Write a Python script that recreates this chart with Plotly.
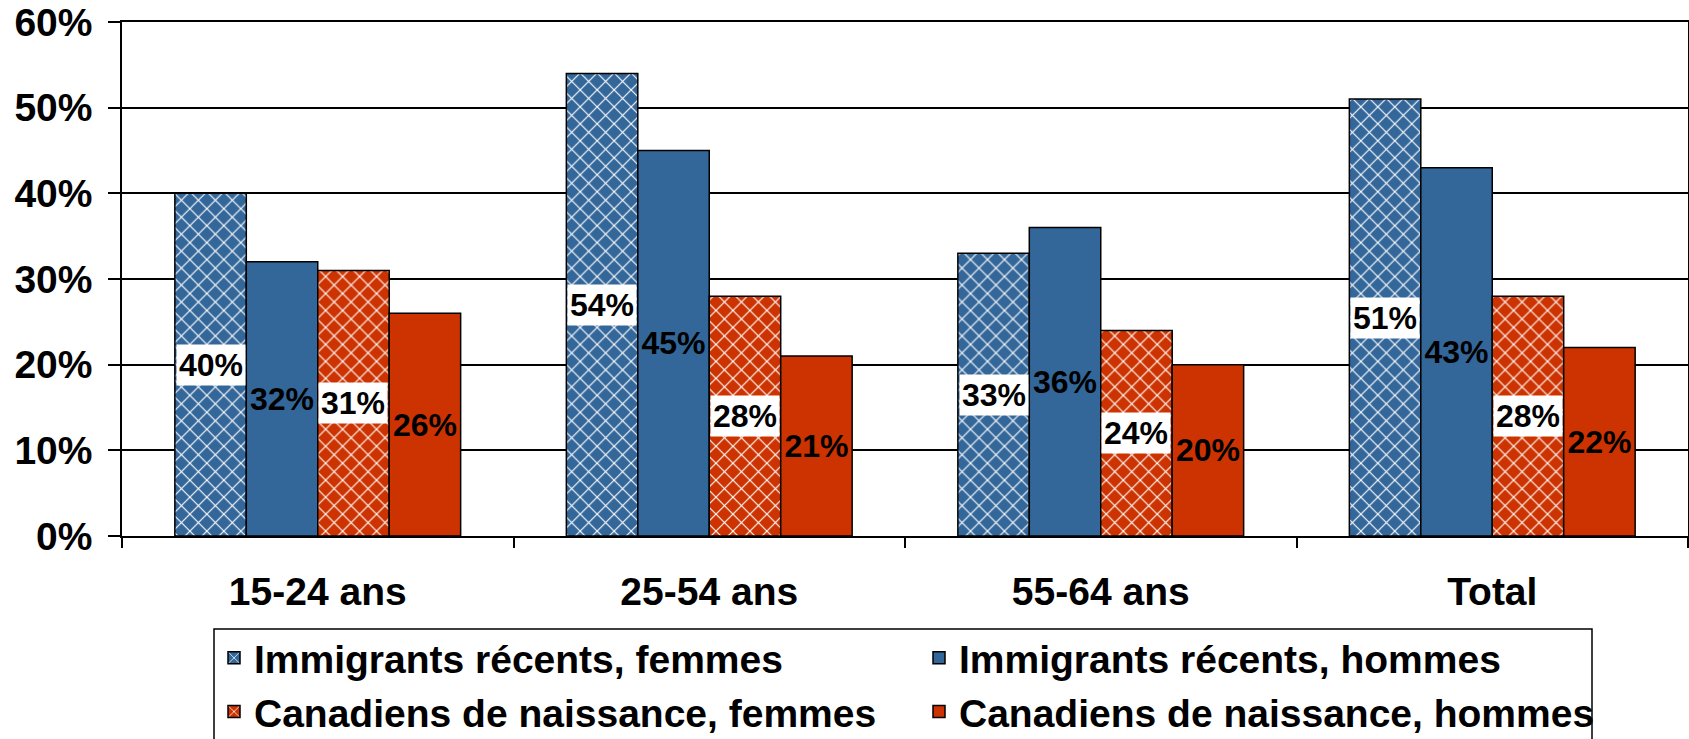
import plotly.graph_objects as go

categories = ["15-24 ans", "25-54 ans", "55-64 ans", "Total"]
series_names = [
    "Immigrants récents, femmes",
    "Immigrants récents, hommes",
    "Canadiens de naissance, femmes",
    "Canadiens de naissance, hommes",
]
imm_femmes = [40, 54, 33, 51]
imm_hommes = [32, 45, 36, 43]
can_femmes = [31, 28, 24, 28]
can_hommes = [26, 21, 20, 22]
y_ticks = [0, 10, 20, 30, 40, 50, 60]
y_ticktext = [f"{v}%" for v in y_ticks]

BLUE = "#336699"
RED = "#CC3300"
FONT = "Liberation Sans, Arial, sans-serif"
W, H = 1689, 739
ML, MR, MT, MB = 122, 1, 22, 203
PW, PH = W - ML - MR, H - MT - MB

values = [imm_femmes, imm_hommes, can_femmes, can_hommes]
colors = [BLUE, BLUE, RED, RED]
hatched = [True, False, True, False]

bar_w = 0.1825
start = -0.365

fig = go.Figure()
annotations = []
for k, (name, vals, col, hat) in enumerate(zip(series_names, values, colors, hatched)):
    off = start + k * bar_w
    marker = dict(color=col, line=dict(color="black", width=1.5))
    if hat:
        marker["pattern"] = dict(shape="x", fgcolor="white", bgcolor=col,
                                 size=12, solidity=0.18, fillmode="replace")
    fig.add_trace(go.Bar(
        name=name, x=categories, y=vals, width=bar_w, offset=off,
        marker=marker,
        text=None if hat else [f"{v}%" for v in vals],
        textposition="inside", insidetextanchor="middle", textangle=0,
        constraintext="none",
        textfont=dict(family=FONT, size=32, color="black", weight="bold"),
        hoverinfo="skip",
    ))
    if hat:
        for i, v in enumerate(vals):
            annotations.append(dict(
                x=i + off + bar_w / 2, y=v / 2, xref="x", yref="y",
                text=f"{v}%", showarrow=False, bgcolor="white",
                width=68, height=40, borderpad=0,
                font=dict(family=FONT, size=32, color="black", weight="bold"),
            ))

# legend frame (px -> paper)
lx0, lx1, ly0 = 214, 1592, 629
shapes = [dict(
    type="rect", xref="paper", yref="paper",
    x0=(lx0 - ML) / PW, x1=(lx1 - ML) / PW,
    y0=(MT + PH - ly0) / PH, y1=(MT + PH - 760) / PH,
    line=dict(color="black", width=1.5), fillcolor="rgba(0,0,0,0)", layer="above",
)]

fig.update_layout(
    width=W, height=H,
    margin=dict(l=ML, r=MR, t=MT, b=MB, autoexpand=False),
    paper_bgcolor="white", plot_bgcolor="white",
    barmode="overlay",
    showlegend=True,
    annotations=annotations,
    shapes=shapes,
    legend=dict(
        orientation="h", x=(lx0 - ML) / PW, xanchor="left",
        y=(MT + PH - 626) / PH, yanchor="top",
        borderwidth=0, bgcolor="rgba(0,0,0,0)",
        font=dict(family=FONT, size=39, color="black", weight="bold"),
        entrywidth=660, entrywidthmode="pixels",
        traceorder="normal",
    ),
    xaxis=dict(
        type="category", tickson="boundaries", ticks="outside", ticklen=10,
        tickcolor="black", tickwidth=1.5,
        showline=True, linecolor="black", linewidth=1.5, mirror=True,
        showgrid=False, ticklabelstandoff=20,
        tickfont=dict(family=FONT, size=39, color="black", weight="bold"),
    ),
    yaxis=dict(
        range=[0, 60], tickvals=y_ticks, ticktext=y_ticktext,
        ticks="outside", ticklen=12, tickcolor="black", tickwidth=1.5,
        showline=True, linecolor="black", linewidth=1.5, mirror=True,
        showgrid=True, gridcolor="black", gridwidth=1.5, zeroline=False,
        ticklabelstandoff=8,
        tickfont=dict(family=FONT, size=39, color="black", weight="bold"),
    ),
)

post = (
    "document.body.style.margin='0';document.body.style.overflow='hidden';"
    "Plotly.relayout(document.getElementById('{plot_id}'), {width: %d, height: %d});" % (W, H)
)
fig.write_html("out.html", post_script=post,
               config={"responsive": False, "displayModeBar": False})
